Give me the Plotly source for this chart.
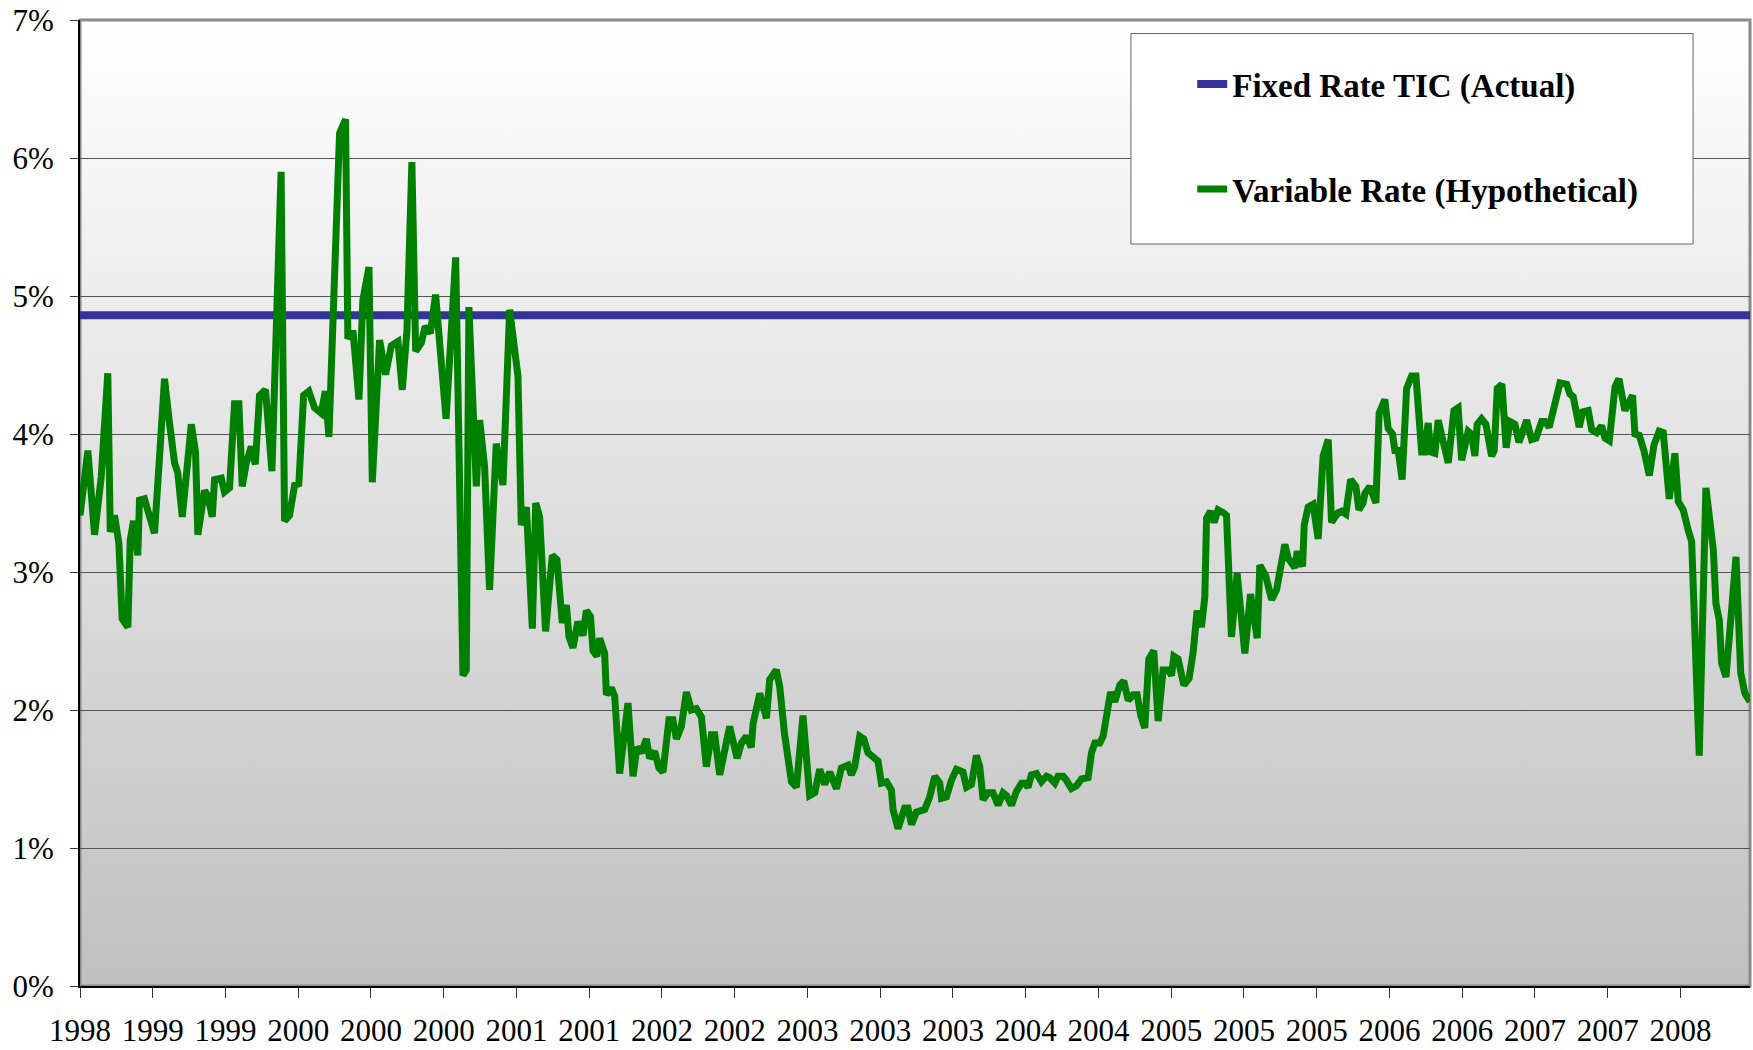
import base64
import plotly.graph_objects as go

# ---------------- data ----------------
tick_labels = ["1998", "1999", "1999", "2000", "2000", "2000", "2001", "2001", "2002", "2002",
               "2003", "2003", "2003", "2004", "2004", "2005", "2005", "2005", "2006", "2006",
               "2007", "2007", "2008"]
months_per_label = 5

y_ticks = [0, 1, 2, 3, 4, 5, 6, 7]

fixed_rate = 4.86  # Fixed Rate TIC (Actual), %

# time position in months from the first observation
months = [
    0.0, 0.54, 1.00, 1.46, 1.91, 2.08, 2.37, 2.67, 2.90, 3.29,
    3.45, 3.68, 3.97, 4.09, 4.43, 5.12, 5.47, 5.81, 6.15, 6.50,
    6.72, 7.03, 7.65, 7.94, 8.10, 8.56, 8.79, 9.09, 9.25, 9.71,
    9.93, 10.28, 10.62, 10.92, 11.15, 11.43, 11.77, 12.05, 12.34, 12.75,
    13.19, 13.82, 14.06, 14.40, 14.75, 15.04, 15.37, 15.73, 16.12, 16.35,
    16.58, 16.86, 17.11, 17.84, 18.25, 18.41, 18.76, 19.17, 19.44, 19.86,
    20.09, 20.59, 21.00, 21.40, 21.85, 22.15, 22.47, 22.81, 23.07, 23.46,
    23.73, 24.08, 24.44, 25.16, 25.82, 26.32, 26.55, 26.73, 27.24, 27.47,
    27.81, 28.15, 28.61, 29.07, 29.53, 30.10, 30.33, 30.68, 31.09, 31.32,
    31.59, 32.00, 32.46, 32.78, 33.15, 33.43, 33.61, 33.88, 34.22, 34.57,
    34.80, 35.08, 35.26, 35.53, 35.72, 36.06, 36.18, 36.52, 36.75, 37.09,
    37.50, 37.66, 38.01, 38.28, 38.58, 38.93, 39.15, 39.50, 39.79, 40.07,
    40.48, 40.75, 40.99, 41.33, 41.68, 42.02, 42.36, 42.71, 43.05, 43.40,
    43.62, 43.97, 44.65, 45.16, 45.46, 45.80, 46.14, 46.26, 46.72, 47.18,
    47.40, 47.86, 48.09, 48.43, 48.90, 49.24, 49.69, 50.15, 50.50, 50.84,
    51.18, 51.53, 51.99, 52.33, 52.79, 53.02, 53.25, 53.59, 53.87, 54.16,
    54.85, 55.08, 55.43, 55.77, 55.88, 56.22, 56.68, 56.91, 57.15, 57.49,
    58.06, 58.40, 58.75, 59.09, 59.21, 59.55, 59.89, 60.24, 60.69, 60.93,
    61.27, 61.61, 61.84, 62.07, 62.41, 62.75, 63.10, 63.44, 63.68, 64.02,
    64.36, 64.71, 64.93, 65.16, 65.39, 65.74, 66.08, 66.43, 66.65, 67.00,
    67.22, 67.57, 67.80, 68.14, 68.49, 68.83, 69.29, 69.52, 69.75, 70.09,
    70.32, 70.59, 70.83, 71.12, 71.47, 71.74, 72.04, 72.38, 72.66, 72.91,
    73.18, 73.46, 73.80, 74.10, 74.44, 74.79, 75.02, 75.18, 75.47, 75.87,
    76.23, 76.51, 76.78, 77.08, 77.31, 77.43, 77.70, 77.95, 78.22, 78.57,
    78.80, 79.14, 79.53, 80.06, 80.45, 80.91, 81.09, 81.50, 81.90, 82.24,
    82.81, 83.04, 83.50, 83.66, 84.03, 84.14, 84.41, 84.75, 85.10, 85.44,
    85.79, 86.02, 86.47, 86.71, 87.00, 87.33, 87.69, 87.90, 88.19, 88.31,
    88.65, 89.07, 89.29, 89.68, 89.91, 90.21, 90.37, 90.60, 90.87, 91.18,
    91.52, 91.82, 92.21, 92.43, 92.66, 92.83, 93.12, 93.35, 93.69, 94.04,
    94.43, 94.72, 94.96, 95.41, 95.64, 95.87, 96.03, 96.33, 96.63, 97.02,
    97.20, 97.41, 97.73, 98.02, 98.28, 98.62, 98.90, 99.43, 99.77, 100.07,
    100.46, 100.68, 100.98, 101.37, 101.72, 102.18, 102.40, 102.63, 103.04, 103.28,
    103.66, 103.90, 104.24, 104.58, 104.81, 105.11, 105.50, 105.77, 106.18, 106.71,
    106.87, 107.17, 107.49, 107.86, 108.18, 108.54, 108.82, 109.23, 109.62, 109.85,
    110.19, 110.54, 110.77, 111.29, 111.75, 112.26, 112.44, 112.67, 112.83, 113.13,
    113.82, 114.14, 114.43, 114.78,
]

# Variable Rate (Hypothetical), %
variable_rate = [
    3.41, 3.88, 3.27, 3.69, 4.44, 3.29, 3.41, 3.21, 2.66, 2.60,
    3.23, 3.37, 3.12, 3.52, 3.53, 3.28, 3.84, 4.40, 4.08, 3.79,
    3.72, 3.40, 4.07, 3.87, 3.27, 3.59, 3.55, 3.40, 3.67, 3.68,
    3.58, 3.61, 4.22, 4.22, 3.62, 3.79, 3.91, 3.78, 4.28, 4.32,
    3.73, 5.90, 3.37, 3.41, 3.63, 3.64, 4.28, 4.31, 4.19, 4.17,
    4.15, 4.31, 3.98, 6.18, 6.28, 4.69, 4.75, 4.25, 4.97, 5.21,
    3.65, 4.68, 4.43, 4.64, 4.67, 4.32, 4.75, 5.97, 4.60, 4.66,
    4.78, 4.73, 5.01, 4.11, 5.28, 2.25, 2.29, 4.92, 3.62, 4.10,
    3.76, 2.87, 3.93, 3.63, 4.90, 4.42, 3.34, 3.47, 2.59, 3.50,
    3.40, 2.57, 3.12, 3.09, 2.63, 2.76, 2.53, 2.45, 2.64, 2.54,
    2.72, 2.68, 2.43, 2.39, 2.52, 2.41, 2.11, 2.16, 2.10, 1.54,
    2.00, 2.05, 1.52, 1.73, 1.69, 1.79, 1.65, 1.70, 1.58, 1.55,
    1.93, 1.93, 1.79, 1.88, 2.13, 2.00, 2.01, 1.95, 1.59, 1.82,
    1.82, 1.53, 1.88, 1.65, 1.76, 1.81, 1.73, 1.90, 2.12, 1.94,
    2.22, 2.29, 2.17, 1.82, 1.48, 1.44, 1.96, 1.38, 1.40, 1.57,
    1.46, 1.55, 1.43, 1.58, 1.60, 1.53, 1.59, 1.81, 1.79, 1.69,
    1.63, 1.47, 1.48, 1.42, 1.28, 1.14, 1.29, 1.29, 1.17, 1.26,
    1.28, 1.37, 1.52, 1.47, 1.36, 1.37, 1.49, 1.57, 1.55, 1.44,
    1.46, 1.67, 1.59, 1.35, 1.40, 1.40, 1.31, 1.40, 1.38, 1.31,
    1.41, 1.47, 1.47, 1.44, 1.53, 1.54, 1.48, 1.52, 1.51, 1.47,
    1.52, 1.52, 1.49, 1.43, 1.45, 1.50, 1.51, 1.69, 1.76, 1.76,
    1.81, 1.95, 2.13, 2.06, 2.18, 2.21, 2.07, 2.11, 2.11, 1.96,
    1.87, 2.37, 2.43, 1.92, 2.29, 2.29, 2.25, 2.39, 2.37, 2.18,
    2.23, 2.42, 2.72, 2.60, 2.82, 3.39, 3.44, 3.36, 3.45, 3.43,
    3.41, 2.53, 2.99, 2.41, 2.84, 2.52, 3.05, 2.97, 2.80, 2.87,
    3.20, 3.10, 3.03, 3.15, 3.04, 3.34, 3.47, 3.49, 3.24, 3.84,
    3.96, 3.36, 3.43, 3.44, 3.42, 3.67, 3.62, 3.45, 3.50, 3.57,
    3.62, 3.50, 4.15, 4.25, 4.04, 4.00, 3.88, 3.88, 3.67, 4.33,
    4.42, 4.42, 3.87, 3.87, 4.08, 3.87, 3.86, 4.10, 3.96, 3.79,
    4.17, 4.19, 3.81, 4.02, 4.00, 3.84, 4.07, 4.11, 4.07, 3.84,
    3.88, 4.33, 4.36, 3.90, 4.09, 4.07, 3.94, 4.10, 3.96, 3.97,
    4.09, 4.09, 4.05, 4.21, 4.37, 4.36, 4.29, 4.27, 4.05, 4.16,
    4.17, 4.03, 4.01, 4.06, 3.97, 3.95, 4.34, 4.40, 4.17, 4.28,
    4.00, 3.99, 3.88, 3.70, 3.92, 4.02, 4.01, 3.53, 3.86, 3.51,
    3.45, 3.30, 3.22, 1.67, 3.61, 3.16, 2.77, 2.65, 2.34, 2.24,
    3.11, 2.27, 2.12, 2.06,
]

assert len(months) == len(variable_rate)

# ---------------- figure ----------------
FONT = "Liberation Serif"
tick_vals = [i * months_per_label for i in range(len(tick_labels))]
x_start, x_end = months[0], months[-1]

fig = go.Figure()

fig.add_trace(go.Scatter(
    x=[x_start, x_end], y=[fixed_rate, fixed_rate],
    mode="lines", name="Fixed Rate TIC (Actual)", legendgroup="a",
    line=dict(color="#333399", width=8),
))
fig.add_trace(go.Scatter(
    x=months, y=variable_rate,
    mode="lines", name="Variable Rate (Hypothetical)", legendgroup="b",
    line=dict(color="#008000", width=7, shape="linear"),
))

# vertical white-to-grey gradient for the plot background
svg = ('<svg xmlns="http://www.w3.org/2000/svg" width="10" height="100" preserveAspectRatio="none">'
       '<defs><linearGradient id="g" x1="0" y1="0" x2="0" y2="1">'
       '<stop offset="0" stop-color="#ffffff"/><stop offset="1" stop-color="#c0c0c0"/>'
       '</linearGradient></defs><rect width="10" height="100" fill="url(#g)"/></svg>')
src = "data:image/svg+xml;base64," + base64.b64encode(svg.encode()).decode()

fig.update_layout(
    width=1753, height=1050, autosize=False,
    margin=dict(l=80, r=3, t=20, b=64, autoexpand=False),
    paper_bgcolor="white",
    plot_bgcolor="rgba(0,0,0,0)",
    font=dict(family=FONT, color="black", size=31),
    images=[dict(source=src, xref="paper", yref="paper", x=0, y=1, sizex=1, sizey=1,
                 xanchor="left", yanchor="top", sizing="stretch", layer="below")],
    shapes=[
        # plot frame (grey top/right)
        dict(type="rect", xref="paper", yref="paper", x0=0, x1=1, y0=0, y1=1,
             line=dict(color="#8a8a8a", width=3), fillcolor="rgba(0,0,0,0)", layer="below"),
        # legend box
        dict(type="rect", xref="paper", yref="paper", x0=0.6293, x1=0.9659, y0=0.7681, y1=0.9860,
             line=dict(color="#666666", width=1), fillcolor="white", layer="above"),
    ],
    showlegend=True,
    legend=dict(
        x=0.666, y=0.9627, xanchor="left", yanchor="top",
        bgcolor="rgba(0,0,0,0)", borderwidth=0,
        traceorder="grouped", tracegroupgap=59,
        font=dict(family=FONT, size=33, color="black", weight="bold"),
    ),
    xaxis=dict(
        range=[x_start, x_end], tickmode="array", tickvals=tick_vals, ticktext=tick_labels,
        showgrid=False, zeroline=False, automargin=False,
        showline=True, linecolor="black", linewidth=2,
        ticks="outside", ticklen=10, tickwidth=1, tickcolor="#333333",
        ticklabelstandoff=6,
        tickfont=dict(family=FONT, size=31, color="black"),
    ),
    yaxis=dict(
        range=[0, 7], tickmode="array", tickvals=y_ticks,
        ticktext=[f"{v}%" for v in y_ticks],
        showgrid=True, gridcolor="#555555", gridwidth=1, zeroline=False, automargin=False,
        showline=True, linecolor="black", linewidth=2,
        ticks="outside", ticklen=8, tickwidth=1, tickcolor="#333333",
        ticklabelstandoff=10,
        tickfont=dict(family=FONT, size=31, color="black"),
    ),
)

fig.write_html("out.html", config={"displayModeBar": False},
               post_script="document.body.style.margin='0px';")
